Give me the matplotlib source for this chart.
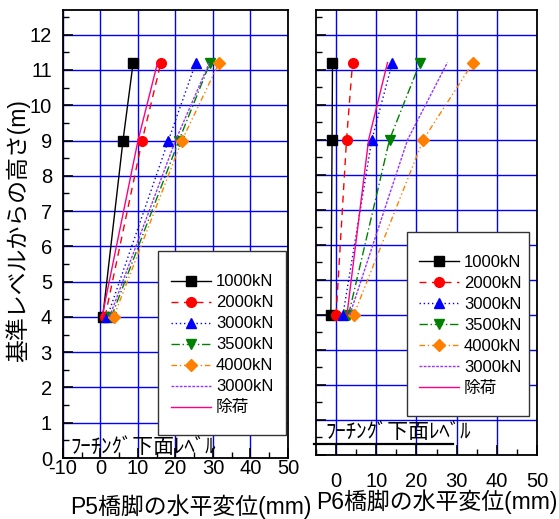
import matplotlib
matplotlib.use("Agg")
import matplotlib.pyplot as plt
from matplotlib.ticker import MultipleLocator
from matplotlib.patches import Rectangle

plt.rcParams['font.family'] = ['Liberation Sans', 'Noto Sans CJK JP']
plt.rcParams['axes.unicode_minus'] = False

heights = [4, 9, 11.2]

labels = ['1000kN', '2000kN', '3000kN', '3500kN', '4000kN', '3000kN', '除荷']

# P5 displacements (mm) at heights 4, 9, 11.2 m
p5 = [
    [0.6, 6.0, 8.7],
    [1.2, 11.1, 16.1],
    [1.8, 18.1, 25.4],
    [2.9, 20.9, 29.2],
    [3.5, 21.7, 31.6],
    [2.4, 20.0, 29.0],
    [0.4, 10.0, 15.2],
]

# P6 displacements (mm)
p6 = [
    [-1.3, -1.0, -0.9],
    [0.0, 2.6, 4.1],
    [1.7, 8.9, 14.0],
    [3.1, 13.3, 20.9],
    [4.4, 21.7, 34.1],
    [3.4, 17.8, 27.7],
    [2.7, 8.1, 12.8],
]

styles = [
    dict(color='black', ls='-', marker='s'),
    dict(color='#ff0000', ls=(0, (5, 4)), marker='o'),
    dict(color='#0000ff', ls=(0, (1, 2)), marker='^'),
    dict(color='#008000', ls=(0, (6, 2, 1, 2)), marker='v'),
    dict(color='#ff8000', ls=(0, (4, 2, 1, 2, 1, 2)), marker='D'),
    dict(color='#9933ff', ls=(0, (2, 1)), marker=None),
    dict(color='#ff0080', ls='-', marker=None),
]

fig = plt.figure(figsize=(5.59, 5.19), dpi=100)
ax1 = fig.add_axes([0.1127, 0.1175, 0.4025, 0.8632])
ax2 = fig.add_axes([0.5653, 0.1233, 0.3953, 0.8574])


def draw(ax, data, xmin, box, anchor):
    for vals, lab, st in zip(data, labels, styles):
        ms = 6.5 if st['marker'] == 'D' else 7
        ax.plot(vals, heights, color=st['color'], linestyle=st['ls'], marker=st['marker'],
                markersize=ms, lw=1.0, label=lab, zorder=3, clip_on=False)
    ax.set_xlim(xmin, 50)
    ax.set_ylim(0, 12.7)
    ax.xaxis.set_major_locator(MultipleLocator(10))
    ax.xaxis.set_minor_locator(MultipleLocator(5))
    ax.yaxis.set_major_locator(MultipleLocator(1))
    ax.yaxis.set_minor_locator(MultipleLocator(0.5))
    ax.grid(True, which='major', color='#0000ff', lw=1.0, zorder=0)
    ax.set_axisbelow(True)
    ax.tick_params(which='both', direction='in', top=False, right=False, labelsize=14.5)
    ax.tick_params(which='major', length=7, width=1.2)
    ax.tick_params(which='minor', length=4, width=1.0)
    for s in ax.spines.values():
        s.set_linewidth(1.3)
    # legend frame drawn separately (taller padding than matplotlib gives)
    x0, y0, x1, y1 = box
    ax.add_patch(Rectangle((x0, y0), x1 - x0, y1 - y0, transform=ax.transAxes,
                           facecolor='white', edgecolor='#333333', lw=1.0, zorder=4.5,
                           clip_on=False))
    leg = ax.legend(loc='upper left', bbox_to_anchor=anchor, fontsize=12, frameon=False,
                    handlelength=2.4, handletextpad=0.3, labelspacing=0.36,
                    borderpad=0, borderaxespad=0)
    leg.set_zorder(5)


draw(ax1, p5, -10, (0.422, 0.0513, 0.991, 0.462), (0.48, 0.41))
draw(ax2, p6, -5, (0.412, 0.0876, 0.964, 0.501), (0.466, 0.45))

ax1.set_yticks(range(0, 13))
ax1.set_xticks(range(-10, 51, 10))
ax1.tick_params(axis='x', pad=1)
ax1.tick_params(axis='y', pad=8)
ax1.set_ylabel('基準レベルからの高さ(m)', fontsize=16.5)
ax1.yaxis.set_label_coords(-0.145, 0.507)
ax1.set_xlabel('P5橋脚の水平変位(mm)', fontsize=16.5)
ax1.xaxis.set_label_coords(0.569, -0.08)
ax1.text(-8, 0.02, 'ﾌｰﾁﾝｸﾞ下面ﾚﾍﾞﾙ', fontsize=15, va='bottom', ha='left', zorder=4)

ax2.set_xticks(range(0, 51, 10))
ax2.tick_params(axis='x', pad=12)
ax2.tick_params(axis='y', labelleft=False)
ax2.set_xlabel('P6橋脚の水平変位(mm)', fontsize=16.5)
ax2.xaxis.set_label_coords(0.548, -0.078)
ax2.text(-2.7, 0.38, 'ﾌｰﾁﾝｸﾞ下面ﾚﾍﾞﾙ', fontsize=15, va='bottom', ha='left', zorder=4)
ax2.plot([-5.6, 29.2], [0.3, 0.3], color='black', lw=1.6, clip_on=False, zorder=4)

fig.savefig('out.png', dpi=100)
